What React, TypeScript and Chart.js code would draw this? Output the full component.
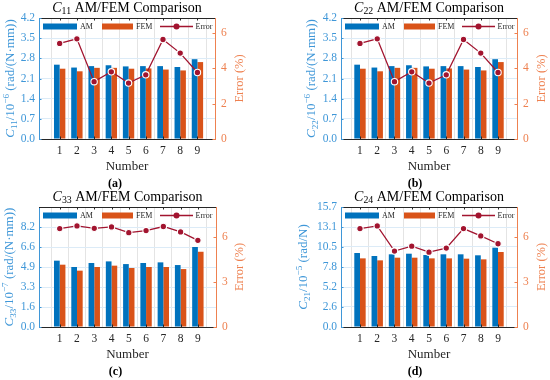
import React, { useEffect, useRef } from 'react';
import { Chart, registerables } from 'chart.js';

Chart.register(...registerables);

// ---------- data ----------
const categories = [1, 2, 3, 4, 5, 6, 7, 8, 9];
const seriesNames = ['AM', 'FEM', 'Error'];

const am11 = [2.58, 2.48, 2.53, 2.56, 2.52, 2.53, 2.53, 2.5, 2.77];
const fem11 = [2.44, 2.35, 2.47, 2.47, 2.44, 2.45, 2.41, 2.38, 2.67];
const err11 = [5.42, 5.68, 3.25, 3.81, 3.17, 3.64, 5.64, 4.87, 3.77];

const am22 = [2.58, 2.48, 2.53, 2.56, 2.52, 2.53, 2.53, 2.5, 2.77];
const fem22 = [2.44, 2.35, 2.47, 2.47, 2.44, 2.45, 2.41, 2.38, 2.67];
const err22 = [5.42, 5.68, 3.25, 3.81, 3.17, 3.64, 5.64, 4.87, 3.77];

const am33 = [5.44, 4.92, 5.25, 5.38, 5.16, 5.25, 5.3, 5.08, 6.56];
const fem33 = [5.11, 4.62, 4.92, 5.03, 4.84, 4.92, 4.92, 4.75, 6.17];
const err33 = [6.56, 6.74, 6.58, 6.67, 6.29, 6.43, 6.7, 6.34, 5.78];

const am24 = [9.68, 9.29, 9.51, 9.59, 9.42, 9.51, 9.51, 9.38, 10.38];
const fem24 = [8.98, 8.72, 9.07, 9.07, 8.98, 8.98, 8.94, 8.85, 9.81];
const err24 = [6.56, 6.74, 5.06, 5.39, 4.99, 5.26, 6.56, 6.07, 5.55];

const leftTicks11 = [0, 0.7, 1.4, 2.1, 2.8, 3.5, 4.2];
const rightTicks11 = [0, 2, 4, 6];
const leftTicks33 = [0, 1.64, 3.28, 4.92, 6.56, 8.2];
const rightTicks33 = [0, 3, 6];
const leftTicks24 = [0, 2.6167, 5.2333, 7.85, 10.4667, 13.0833, 15.7];
const rightTicks24 = [0, 3, 6];

// ---------- styles ----------
const BLUE = '#0072BD';
const ORANGE = '#D95319';
const RED = '#A2142F';
const AXBLUE = '#3F97D8';
const AXORANGE = '#EE8150';
const DARK = '#262626';
const FAM = '"Liberation Serif", "Times New Roman", serif';
const W = 275;
const H = 190;

type Seg = { t: string; it?: boolean; b?: boolean; sub?: boolean; sup?: boolean };

function drawRich(
  ctx: CanvasRenderingContext2D,
  segs: Seg[],
  x: number,
  y: number,
  size: number,
  color: string,
  rot = 0,
  align: 'center' | 'left' = 'center'
) {
  const fontOf = (s: Seg) =>
    `${s.it ? 'italic ' : ''}${s.b ? 'bold ' : ''}${s.sub || s.sup ? size * 0.7 : size}px ${FAM}`;
  ctx.save();
  ctx.translate(x, y);
  ctx.rotate(rot);
  let total = 0;
  for (const s of segs) {
    ctx.font = fontOf(s);
    total += ctx.measureText(s.t).width;
  }
  let cx = align === 'center' ? -total / 2 : 0;
  ctx.fillStyle = color;
  ctx.textBaseline = 'middle';
  ctx.textAlign = 'left';
  for (const s of segs) {
    ctx.font = fontOf(s);
    const dy = s.sub ? size * 0.28 : s.sup ? -size * 0.35 : 0;
    ctx.fillText(s.t, cx, dy);
    cx += ctx.measureText(s.t).width;
  }
  ctx.restore();
}

interface PanelDef {
  tag: string;
  sym: string;
  ysym: string;
  exp: string;
  unit: string;
  am: number[];
  fem: number[];
  err: number[];
  lt: number[];
  rt: number[];
  yMax: number;
  y1Max: number;
  left: number;
  top: number;
  box: [number, number, number, number];
  xLim: [number, number];
  ltX: number;
  rtX: number;
  tagDx: number;
}

const panels: PanelDef[] = [
  {
    tag: '(a)', sym: '11', ysym: '11', exp: '−6', unit: ' (rad/(N·mm))',
    am: am11, fem: fem11, err: err11, lt: leftTicks11, rt: rightTicks11,
    yMax: 4.2, y1Max: 6.86, left: 0, top: 0, box: [39, 18, 215, 139], xLim: [-0.2, 10.02],
    ltX: 11, rtX: 240, tagDx: -12,
  },
  {
    tag: '(b)', sym: '22', ysym: '22', exp: '−6', unit: ' (rad/(N·mm))',
    am: am22, fem: fem22, err: err22, lt: leftTicks11, rt: rightTicks11,
    yMax: 4.2, y1Max: 6.86, left: 275, top: 0, box: [66, 18, 242, 139], xLim: [-0.1, 10.1],
    ltX: 37, rtX: 267, tagDx: -14,
  },
  {
    tag: '(c)', sym: '33', ysym: '33', exp: '−7', unit: ' (rad/(N·mm))',
    am: am33, fem: fem33, err: err33, lt: leftTicks33, rt: rightTicks33,
    yMax: 9.84, y1Max: 8, left: 0, top: 190, box: [39, 17, 216, 137], xLim: [-0.2, 10.05],
    ltX: 10, rtX: 240, tagDx: -12,
  },
  {
    tag: '(d)', sym: '24', ysym: '21', exp: '−5', unit: ' (rad/N)',
    am: am24, fem: fem24, err: err24, lt: leftTicks24, rt: rightTicks24,
    yMax: 15.7, y1Max: 8, left: 275, top: 190, box: [66, 17, 242, 137], xLim: [-0.1, 10.1],
    ltX: 29, rtX: 267, tagDx: -14,
  },
];

function Panel({ p }: { p: PanelDef }) {
  const ref = useRef<HTMLCanvasElement | null>(null);

  useEffect(() => {
    if (!ref.current) return;
    const [bl, bt, br, bb] = p.box;
    const tickFont = { family: FAM, size: 11.5 };

    const deco = {
      id: 'deco',
      afterDraw(chart: any) {
        const ctx: CanvasRenderingContext2D = chart.ctx;
        const ca = chart.chartArea;
        const xs = chart.scales.x;
        const ys = chart.scales.y;
        const y1 = chart.scales.y1;
        const tl = 2.5;
        ctx.save();
        // top spine
        ctx.strokeStyle = DARK;
        ctx.lineWidth = 1;
        ctx.beginPath();
        ctx.moveTo(ca.left, ca.top + 0.5);
        ctx.lineTo(ca.right, ca.top + 0.5);
        ctx.stroke();
        // inward ticks
        ctx.beginPath();
        for (const c of categories) {
          const px = Math.round(xs.getPixelForValue(c)) + 0.5;
          ctx.moveTo(px, ca.bottom);
          ctx.lineTo(px, ca.bottom - tl);
          ctx.moveTo(px, ca.top);
          ctx.lineTo(px, ca.top + tl);
        }
        ctx.stroke();
        ctx.strokeStyle = AXBLUE;
        ctx.beginPath();
        for (const v of p.lt) {
          const py = Math.round(ys.getPixelForValue(v)) + 0.5;
          ctx.moveTo(ca.left, py);
          ctx.lineTo(ca.left + tl, py);
        }
        ctx.stroke();
        ctx.strokeStyle = AXORANGE;
        ctx.beginPath();
        for (const v of p.rt) {
          const py = Math.round(y1.getPixelForValue(v)) + 0.5;
          ctx.moveTo(ca.right, py);
          ctx.lineTo(ca.right - tl, py);
        }
        ctx.stroke();

        // legend
        const ly = ca.top + 8.5;
        const lx = ca.left;
        ctx.fillStyle = BLUE;
        ctx.fillRect(lx + 4, ly - 3, 34, 6);
        ctx.fillStyle = ORANGE;
        ctx.fillRect(lx + 63, ly - 3, 31, 6);
        ctx.strokeStyle = RED;
        ctx.lineWidth = 1.3;
        ctx.beginPath();
        ctx.moveTo(lx + 121, ly);
        ctx.lineTo(lx + 154, ly);
        ctx.stroke();
        ctx.beginPath();
        ctx.arc(lx + 137.5, ly, 3, 0, Math.PI * 2);
        ctx.fillStyle = RED;
        ctx.fill();
        ctx.font = `8px ${FAM}`;
        ctx.fillStyle = DARK;
        ctx.textBaseline = 'middle';
        ctx.textAlign = 'left';
        ctx.fillText(seriesNames[0], lx + 41, ly);
        ctx.fillText(seriesNames[1], lx + 97, ly);
        ctx.fillText(seriesNames[2], lx + 156.5, ly);

        const cx = (ca.left + ca.right) / 2;
        const cy = (ca.top + ca.bottom) / 2;
        // title
        drawRich(ctx, [{ t: 'C', it: true }, { t: p.sym, sub: true }, { t: ' AM/FEM Comparison' }], cx, ca.top - 10, 14, '#000');
        // left axis title
        drawRich(
          ctx,
          [{ t: 'C', it: true }, { t: p.ysym, sub: true }, { t: '/10' }, { t: p.exp, sup: true }, { t: p.unit }],
          p.ltX, cy, 13, AXBLUE, -Math.PI / 2
        );
        // right axis title
        drawRich(ctx, [{ t: 'Error (%)' }], p.rtX, cy, 12.5, AXORANGE, -Math.PI / 2);
        // x title
        drawRich(ctx, [{ t: 'Number' }], cx, ca.bottom + 28, 13, DARK);
        // panel tag
        drawRich(ctx, [{ t: p.tag, b: true }], cx + p.tagDx, ca.bottom + 44.5, 12, '#000');
        ctx.restore();
      },
    };

    const chart = new Chart(ref.current, {
      type: 'bar',
      data: {
        datasets: [
          {
            type: 'line',
            label: seriesNames[2],
            data: categories.map((c, i) => ({ x: c, y: p.err[i] })),
            yAxisID: 'y1',
            borderColor: RED,
            borderWidth: 1.3,
            pointRadius: 3.2,
            pointBackgroundColor: RED,
            pointBorderColor: '#ffffff',
            pointBorderWidth: 1.1,
            order: 0,
          } as any,
          {
            type: 'bar',
            label: seriesNames[0],
            data: categories.map((c, i) => ({ x: c, y: p.am[i] })),
            backgroundColor: BLUE,
            yAxisID: 'y',
            categoryPercentage: 0.66,
            barPercentage: 1,
            order: 1,
          } as any,
          {
            type: 'bar',
            label: seriesNames[1],
            data: categories.map((c, i) => ({ x: c, y: p.fem[i] })),
            backgroundColor: ORANGE,
            yAxisID: 'y',
            categoryPercentage: 0.66,
            barPercentage: 1,
            order: 1,
          } as any,
        ],
      },
      options: {
        animation: false,
        responsive: false,
        maintainAspectRatio: false,
        layout: { padding: { top: bt, left: 0, right: 0, bottom: 0 } },
        plugins: { legend: { display: false }, tooltip: { enabled: false }, title: { display: false } },
        scales: {
          x: {
            type: 'linear',
            min: p.xLim[0],
            max: p.xLim[1],
            offset: false,
            afterBuildTicks: (s: any) => {
              s.ticks = categories.map((v) => ({ value: v }));
            },
            afterFit: (s: any) => {
              s.height = H - bb;
            },
            ticks: {
              autoSkip: false,
              maxRotation: 0,
              padding: 5,
              color: DARK,
              font: tickFont,
              callback: (v: any) => String(v),
            },
            grid: { color: '#e4e4e4', lineWidth: 1, drawTicks: false },
            border: { color: DARK, width: 1 },
          },
          y: {
            type: 'linear',
            position: 'left',
            min: 0,
            max: p.yMax,
            afterBuildTicks: (s: any) => {
              s.ticks = p.lt.map((v) => ({ value: v }));
            },
            afterFit: (s: any) => {
              s.width = bl;
            },
            ticks: {
              padding: 4,
              color: AXBLUE,
              font: tickFont,
              callback: (v: any) => Number(v).toFixed(1),
            },
            grid: { color: '#dcebf7', lineWidth: 1, drawTicks: false },
            border: { color: AXBLUE, width: 1 },
          },
          y1: {
            type: 'linear',
            position: 'right',
            min: 0,
            max: p.y1Max,
            afterBuildTicks: (s: any) => {
              s.ticks = p.rt.map((v) => ({ value: v }));
            },
            afterFit: (s: any) => {
              s.width = W - br;
            },
            ticks: {
              padding: 6,
              color: AXORANGE,
              font: tickFont,
              callback: (v: any) => String(Math.round(Number(v))),
            },
            grid: { display: false, drawTicks: false },
            border: { color: AXORANGE, width: 1 },
          },
        },
      } as any,
      plugins: [deco],
    });
    return () => chart.destroy();
  }, [p]);

  return (
    <div style={{ position: 'absolute', left: p.left, top: p.top, width: W, height: H }}>
      <canvas ref={ref} width={W} height={H} style={{ width: W, height: H, display: 'block' }} />
    </div>
  );
}

export default function App() {
  return (
    <div style={{ position: 'fixed', left: 0, top: 0, width: 550, height: 380, background: '#ffffff', overflow: 'hidden' }}>
      {panels.map((p) => (
        <Panel key={p.tag} p={p} />
      ))}
    </div>
  );
}
